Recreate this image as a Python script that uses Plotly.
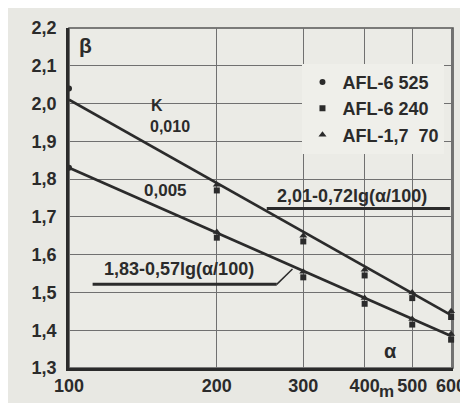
import plotly.graph_objects as go

# ---- data ----
line_alpha = [100, 600]
line_k010 = [2.01, 1.44]      # 2,01 - 0,72 lg(a/100)
line_k005 = [1.83, 1.385]     # 1,83 - 0,57 lg(a/100)

circ_alpha = [100, 100]
circ_beta = [2.04, 1.83]

tri_alpha = [200, 300, 400, 500, 600, 200, 300, 400, 500, 600]
tri_beta = [1.785, 1.65, 1.56, 1.50, 1.45, 1.66, 1.555, 1.485, 1.43, 1.39]

sq_alpha = [200, 300, 400, 500, 600, 200, 300, 400, 500, 600]
sq_beta = [1.77, 1.635, 1.545, 1.485, 1.435, 1.645, 1.54, 1.47, 1.415, 1.375]

x_ticks = [100, 200, 300, 400, 500, 600]
y_ticks = [1.3, 1.4, 1.5, 1.6, 1.7, 1.8, 1.9, 2.0, 2.1, 2.2]
y_ticktext = ["1,3", "1,4", "1,5", "1,6", "1,7", "1,8", "1,9", "2,0", "2,1", "2,2"]

INK = "#2b2b2b"
FONT = "Liberation Sans"

fig = go.Figure()
fig.add_trace(go.Scatter(x=line_alpha, y=line_k010, mode="lines",
                         line=dict(color=INK, width=2.7), showlegend=False))
fig.add_trace(go.Scatter(x=line_alpha, y=line_k005, mode="lines",
                         line=dict(color=INK, width=2.7), showlegend=False))
fig.add_trace(go.Scatter(x=circ_alpha, y=circ_beta, mode="markers", name="AFL-6 525",
                         marker=dict(symbol="circle", size=6, color=INK), cliponaxis=False))
fig.add_trace(go.Scatter(x=sq_alpha, y=sq_beta, mode="markers", name="AFL-6 240",
                         marker=dict(symbol="square", size=6, color=INK), cliponaxis=False))
fig.add_trace(go.Scatter(x=tri_alpha, y=tri_beta, mode="markers", name="AFL-1,7  70",
                         marker=dict(symbol="triangle-up", size=7, color=INK), cliponaxis=False))

def ann(text, x, y, size=18):
    fig.add_annotation(text=text, x=x, y=y, xref="paper", yref="paper",
                       xanchor="center", yanchor="middle", showarrow=False,
                       font=dict(family=FONT, size=size, color=INK, weight="bold"))

ann("β", 0.044, 0.949, size=21)
ann("K", 0.228, 0.772, size=16)
ann("0,010", 0.264, 0.711, size=16)
ann("0,005", 0.251, 0.523, size=17)
ann("2,01-0,72lg(α/100)", 0.738, 0.505, size=18)
ann("1,83-0,57lg(α/100)", 0.287, 0.291, size=18)
ann("α", 0.838, 0.049, size=20)
ann("m", 0.826, -0.07, size=17)

# frame (top / right borders of the printed grid)
fig.add_shape(type="rect", xref="paper", yref="paper", x0=0, y0=0, x1=1, y1=1,
              line=dict(color="#555555", width=1.6), layer="below")

for (x0, y0, x1, y1, w) in [(0.515, 0.469, 0.992, 0.469, 3),
                            (0.0615, 0.246, 0.541, 0.246, 3),
                            (0.541, 0.246, 0.582, 0.291, 1.5)]:
    fig.add_shape(type="line", xref="paper", yref="paper", x0=x0, y0=y0, x1=x1, y1=y1,
                  line=dict(color=INK, width=w))

fig.update_layout(
    width=468, height=403,
    margin=dict(l=61, r=17, t=10, b=43),
    paper_bgcolor="#e8e8e3", plot_bgcolor="#ebebe6",
    font=dict(family=FONT, color=INK),
    legend=dict(x=0.608, y=0.895, xanchor="left", yanchor="top",
                bgcolor="#efefea", borderwidth=0,
                font=dict(family=FONT, size=18, color=INK, weight="bold")),
)
fig.update_xaxes(type="log", range=[2, 2.782], tickvals=x_ticks,
                 ticktext=[str(v) for v in x_ticks],
                 showgrid=True, gridcolor="#707070", gridwidth=1,
                 showline=True, linecolor=INK, linewidth=2.5,
                 ticks="", tickfont=dict(family=FONT, size=18, color=INK, weight="bold"),
                 zeroline=False)
fig.update_yaxes(range=[1.3, 2.2], tickvals=y_ticks, ticktext=y_ticktext,
                 showgrid=True, gridcolor="#707070", gridwidth=1,
                 showline=True, linecolor=INK, linewidth=2.5,
                 ticks="", ticklabelstandoff=6,
                 tickfont=dict(family=FONT, size=18, color=INK, weight="bold"),
                 zeroline=False)

fig.write_html("out.html")
